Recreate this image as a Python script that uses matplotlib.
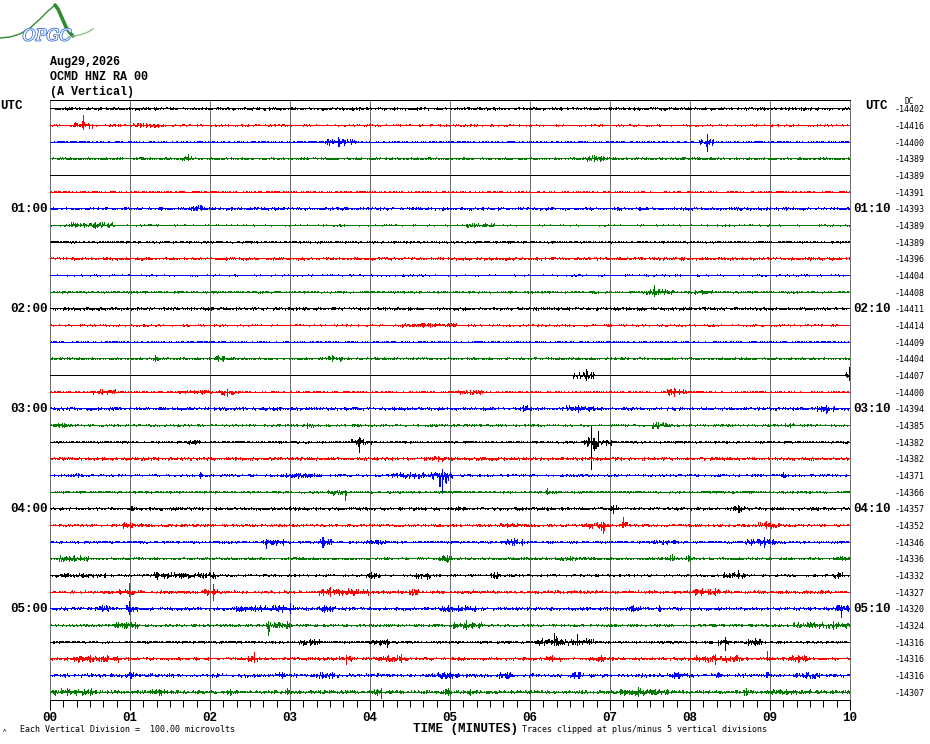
import numpy as np
import matplotlib
matplotlib.use("Agg")
import matplotlib.pyplot as plt
from matplotlib.collections import LineCollection
from matplotlib.ticker import MultipleLocator
import matplotlib.patheffects as pe

# ---------------- data ----------------
DATE = "Aug29,2026"
STATION = "OCMD HNZ RA 00"
COMPONENT = "(A Vertical)"
N_ROWS = 36
ROW_MINUTES = 10
UV_PER_DIV = 100.0
CLIP_DIV = 5

LEFT_LABELS = {0: "UTC", 6: "01:00", 12: "02:00", 18: "03:00", 24: "04:00", 30: "05:00"}
RIGHT_LABELS = {0: "UTC", 6: "01:10", 12: "02:10", 18: "03:10", 24: "04:10", 30: "05:10"}

DC_VALUES = [-14402, -14416, -14400, -14389, -14389, -14391, -14393, -14389, -14389,
             -14396, -14404, -14408, -14411, -14414, -14409, -14404, -14407, -14400,
             -14394, -14385, -14382, -14382, -14371, -14366, -14357, -14352, -14346,
             -14336, -14332, -14327, -14320, -14324, -14316, -14316, -14316, -14307]

X_TICKS = list(range(0, 11))
X_TICK_LABELS = ["00", "01", "02", "03", "04", "05", "06", "07", "08", "09", "10"]

# background noise level of each trace (microvolts, max excursion)
BASE_NOISE_UV = [8, 5, 5, 7, 3, 4, 8, 4, 6, 8, 4, 6, 9, 5, 5, 7, 3, 5,
                 9, 6, 6, 9, 6, 6, 8, 8, 7, 7, 6, 8, 9, 8, 7, 8, 10, 11]

# events: (trace, start_min, end_min, peak_min, up_uV, down_uV)
EVENTS = [
    (1, 0.29, 0.52, 0.41, 72, 30), (1, 1.03, 1.41, 1.20, 12, 12),
    (2, 3.43, 3.82, 3.60, 36, 30), (2, 8.10, 8.30, 8.21, 54, 66),
    (3, 1.64, 1.76, 1.72, 30, 12), (3, 6.68, 6.92, 6.80, 18, 15),
    (6, 1.72, 1.92, 1.88, 24, 12),
    (7, 0.25, 0.78, 0.55, 18, 15), (7, 5.18, 5.55, 5.30, 12, 12),
    (11, 7.44, 7.80, 7.55, 48, 30), (11, 8.05, 8.28, 8.15, 12, 12),
    (13, 4.39, 5.08, 4.75, 12, 12),
    (15, 1.28, 1.35, 1.31, 24, 18), (15, 2.05, 2.17, 2.10, 18, 15), (15, 3.46, 3.64, 3.52, 18, 15),
    (16, 6.52, 6.80, 6.69, 42, 36), (16, 9.93, 10.0, 9.98, 54, 36),
    (17, 0.52, 0.81, 0.65, 15, 15), (17, 1.60, 2.02, 1.90, 12, 12), (17, 2.10, 2.35, 2.20, 18, 30),
    (17, 5.08, 5.41, 5.25, 12, 15), (17, 7.70, 7.95, 7.80, 30, 36),
    (18, 5.87, 5.96, 5.91, 24, 18), (18, 6.44, 6.80, 6.60, 24, 24), (18, 9.58, 9.80, 9.70, 18, 36),
    (19, 0.03, 0.28, 0.15, 12, 12), (19, 3.14, 3.29, 3.20, 15, 15), (19, 7.50, 7.78, 7.60, 18, 18),
    (19, 9.18, 9.32, 9.25, 12, 12),
    (20, 1.69, 1.88, 1.80, 12, 12), (20, 3.75, 4.02, 3.86, 30, 72), (20, 6.66, 7.02, 6.76, 96, 180),
    (20, 6.80, 6.90, 6.84, 96, 40),
    (21, 4.76, 4.95, 4.85, 15, 15),
    (22, 0.22, 0.46, 0.35, 12, 12), (22, 1.84, 1.90, 1.87, 24, 18), (22, 2.90, 3.37, 3.10, 15, 15),
    (22, 4.26, 5.02, 4.89, 36, 108), (22, 9.12, 9.20, 9.16, 30, 12),
    (23, 3.44, 3.70, 3.68, 12, 54), (23, 6.19, 6.24, 6.21, 24, 12),
    (24, 1.00, 1.05, 1.02, 12, 12), (24, 2.97, 3.06, 3.00, 12, 12), (24, 5.00, 5.20, 5.10, 12, 12),
    (24, 6.97, 7.10, 7.03, 18, 30), (24, 8.53, 8.67, 8.60, 18, 36),
    (25, 0.90, 1.15, 1.00, 18, 18), (25, 5.60, 5.85, 5.70, 12, 12), (25, 6.64, 7.00, 6.90, 18, 54),
    (25, 7.12, 7.22, 7.16, 66, 12), (25, 8.84, 9.12, 8.94, 30, 24),
    (26, 2.64, 2.94, 2.69, 15, 42), (26, 2.88, 2.94, 2.91, 12, 30), (26, 3.34, 3.52, 3.40, 42, 48),
    (26, 3.90, 4.30, 4.10, 12, 12), (26, 5.68, 5.92, 5.80, 24, 24), (26, 7.52, 7.85, 7.65, 12, 12),
    (26, 8.68, 9.05, 8.92, 30, 30),
    (27, 0.10, 0.47, 0.30, 18, 18), (27, 4.84, 5.02, 4.95, 24, 24), (27, 6.32, 6.70, 6.50, 12, 12),
    (27, 7.74, 7.80, 7.77, 30, 12), (27, 7.93, 8.00, 7.97, 18, 18), (27, 9.80, 10.0, 9.90, 12, 12),
    (28, 0.03, 0.69, 0.40, 12, 12), (28, 1.28, 2.06, 1.33, 18, 24), (28, 1.95, 2.06, 2.03, 18, 18),
    (28, 3.94, 4.13, 4.00, 18, 18), (28, 4.54, 4.76, 4.70, 12, 30), (28, 5.50, 5.63, 5.55, 18, 18),
    (28, 8.40, 8.67, 8.60, 36, 18), (28, 9.78, 9.90, 9.85, 18, 18),
    (29, 0.85, 1.04, 0.98, 54, 30), (29, 1.91, 2.10, 2.03, 48, 54), (29, 3.35, 3.98, 3.50, 30, 30),
    (29, 4.48, 4.60, 4.52, 18, 18), (29, 8.03, 8.36, 8.31, 24, 24),
    (30, 0.56, 0.75, 0.65, 18, 18), (30, 0.94, 1.09, 0.98, 48, 36), (30, 2.31, 3.04, 3.00, 36, 30),
    (30, 3.35, 3.56, 3.42, 18, 24), (30, 4.85, 5.35, 5.10, 18, 18), (30, 7.19, 7.38, 7.28, 18, 18),
    (30, 7.59, 7.63, 7.61, 24, 18), (30, 9.80, 9.97, 9.88, 24, 54),
    (31, 0.78, 1.10, 0.95, 24, 24), (31, 2.69, 2.99, 2.72, 24, 60), (31, 2.94, 2.99, 2.96, 42, 12),
    (31, 5.01, 5.39, 5.19, 36, 24), (31, 9.28, 10.0, 9.78, 24, 24),
    (32, 3.10, 3.37, 3.25, 18, 24), (32, 3.98, 4.23, 4.21, 18, 36), (32, 6.06, 6.79, 6.29, 54, 24),
    (32, 6.50, 6.65, 6.58, 48, 18), (32, 8.34, 8.48, 8.43, 30, 54), (32, 8.69, 8.90, 8.80, 24, 24),
    (33, 0.28, 0.88, 0.50, 24, 24), (33, 2.46, 2.59, 2.55, 60, 36), (33, 3.60, 3.76, 3.69, 18, 42),
    (33, 4.06, 4.39, 4.38, 30, 24), (33, 6.16, 6.38, 6.27, 18, 18), (33, 6.81, 6.96, 6.88, 18, 18),
    (33, 8.06, 8.65, 8.30, 30, 36), (33, 8.94, 8.98, 8.96, 78, 12), (33, 9.25, 9.46, 9.35, 24, 24),
    (34, 0.98, 1.04, 1.00, 24, 24), (34, 2.85, 2.92, 2.90, 24, 24), (34, 3.35, 3.55, 3.40, 24, 24),
    (34, 4.83, 5.10, 5.00, 24, 24), (34, 5.60, 5.80, 5.70, 18, 18), (34, 6.51, 6.66, 6.60, 24, 30),
    (34, 7.72, 7.90, 7.80, 18, 18), (34, 8.33, 8.38, 8.35, 30, 12), (34, 8.94, 8.98, 8.96, 24, 12),
    (34, 9.30, 9.60, 9.45, 18, 18),
    (35, 0.03, 0.53, 0.20, 24, 24), (35, 1.23, 1.44, 1.35, 18, 24), (35, 2.20, 2.27, 2.24, 18, 18),
    (35, 2.93, 3.00, 2.96, 30, 12), (35, 4.04, 4.15, 4.13, 24, 42), (35, 4.93, 5.00, 4.97, 24, 24),
    (35, 5.22, 5.28, 5.25, 18, 18), (35, 7.10, 7.73, 7.35, 30, 30), (35, 8.66, 8.72, 8.69, 30, 24),
    (35, 9.00, 9.50, 9.20, 15, 15),
]

TRACE_COLORS = ["#000000", "#ff0000", "#0000ff", "#007a00"]

# ---------------- figure ----------------
W, H = 930, 744
fig = plt.figure(figsize=(W / 100, H / 100), dpi=100)
fig.patch.set_facecolor("white")

PX = 0.72  # one pixel in points


def fx(x):
    return x / W


def fy(y):
    return 1 - y / H


ax = fig.add_axes([fx(50), fy(700), 800 / W, 600 / H])
ax.set_xlim(0, ROW_MINUTES)
ax.set_ylim(N_ROWS, 0)
ax.patch.set_alpha(0)
for s in ["left", "right"]:
    ax.spines[s].set_visible(False)
ax.spines["top"].set_linewidth(PX)
ax.spines["bottom"].set_linewidth(PX)
ax.set_yticks([])
ax.set_xticks(X_TICKS)
ax.set_xticklabels(X_TICK_LABELS, family="Liberation Mono", weight="bold", fontsize=9)
ax.xaxis.set_minor_locator(MultipleLocator(1 / 6))
ax.tick_params(axis="x", which="major", length=7.2, width=PX, pad=1.5, direction="out")
ax.tick_params(axis="x", which="minor", length=5, width=PX, direction="out")

# minute grid lines
ax.vlines(X_TICKS, 0, N_ROWS, colors="#707070", linewidth=PX, clip_on=False,
          antialiased=False, zorder=1)

# trace drawing
n_col = 800
t = (np.arange(n_col) + 0.5) * ROW_MINUTES / n_col


def grain(n, seed):
    # fixed texture pattern for the wiggle of the pen
    k = np.arange(n, dtype=float)
    v = np.sin(k * 12.9898 + seed * 78.233) * 43758.5453
    return v - np.floor(v)


for i in range(N_ROWS):
    color = TRACE_COLORS[i % 4]
    yc = i + 0.5
    base = BASE_NOISE_UV[i]
    up = base * grain(n_col, 2 * i + 1) ** 2.5
    dn = base * grain(n_col, 2 * i + 2) ** 2.5
    env_u = np.zeros(n_col)
    env_d = np.zeros(n_col)
    peaks = []
    for (tr, t0, t1, tp, au, ad) in EVENTS:
        if tr != i:
            continue
        tau = max((t1 - t0) / 10.0, 0.006)
        shape = np.exp(-np.abs(t - tp) / tau)
        inside = (t >= t0) & (t <= t1)
        eu = np.where(inside, np.maximum(au * shape, min(au, 20)), 0.0)
        ed = np.where(inside, np.maximum(ad * shape, min(ad, 20)), 0.0)
        env_u = np.maximum(env_u, eu)
        env_d = np.maximum(env_d, ed)
        peaks.append(tp)
    gu = grain(n_col, 100 + i) ** 2
    gd = grain(n_col, 200 + i) ** 2
    for tp in peaks:
        j = int(np.argmin(np.abs(t - tp)))
        gu[j] = 1.0
        gd[j] = 1.0
    up = np.maximum(up, env_u * gu)
    dn = np.maximum(dn, env_d * gd)
    up = np.clip(up / UV_PER_DIV, 0, CLIP_DIV)
    dn = np.clip(dn / UV_PER_DIV, 0, CLIP_DIV)
    segs = np.stack([np.column_stack([t, yc - up]), np.column_stack([t, yc + dn])], axis=1)
    ax.add_collection(LineCollection(segs, colors=color, linewidths=PX,
                                     antialiaseds=False, zorder=3))
    ax.hlines(yc, 0, ROW_MINUTES, colors=color, linewidth=PX, antialiased=False, zorder=3)

# ---------------- texts ----------------
row_px = lambda i: 100 + 600 / N_ROWS * (i + 0.5)
mono = "Liberation Mono"

fig.text(fx(50), fy(62), DATE, family=mono, weight="bold", fontsize=8.5, va="center", ha="left")
fig.text(fx(50), fy(77), STATION, family=mono, weight="bold", fontsize=8.5, va="center", ha="left")
fig.text(fx(50), fy(92), COMPONENT, family=mono, weight="bold", fontsize=8.5, va="center", ha="left")

for i, lab in LEFT_LABELS.items():
    if lab == "UTC":
        fig.text(fx(0), fy(row_px(i) - 2), lab, family=mono, weight="bold", fontsize=9,
                 va="center", ha="left")
    else:
        fig.text(fx(48), fy(row_px(i) + 1), lab, family=mono, weight="bold", fontsize=9,
                 va="center", ha="right")
for i, lab in RIGHT_LABELS.items():
    if lab == "UTC":
        fig.text(fx(865), fy(row_px(i) - 2), lab, family=mono, weight="bold", fontsize=9,
                 va="center", ha="left")
    else:
        fig.text(fx(853), fy(row_px(i) + 1), lab, family=mono, weight="bold", fontsize=9,
                 va="center", ha="left")

fig.text(fx(904), fy(102), "DC", family="DejaVu Sans Mono", fontsize=5.5, va="center", ha="left")
for i, v in enumerate(DC_VALUES):
    fig.text(fx(925), fy(row_px(i) + 1.5), str(v), family="DejaVu Sans Mono", fontsize=6,
             va="center", ha="right")

fig.text(fx(413), fy(729), "TIME (MINUTES)", family=mono, weight="bold", fontsize=9,
         va="center", ha="left")
fig.text(fx(20), fy(730), "Each Vertical Division =  100.00 microvolts",
         family="DejaVu Sans Mono", fontsize=6, va="center", ha="left")
fig.text(fx(522), fy(730), "Traces clipped at plus/minus 5 vertical divisions",
         family="DejaVu Sans Mono", fontsize=6, va="center", ha="left")
fig.text(fx(3), fy(731), "\u028c", family="DejaVu Sans", fontsize=4, va="center", ha="left")

# ---------------- logo ----------------
lg = fig.add_axes([0, 0, 1, 1], zorder=-1)
lg.set_xlim(0, W)
lg.set_ylim(H, 0)
lg.axis("off")
lg.plot([0, 10, 20, 30, 40, 48, 55], [38, 37, 34, 28, 19, 11, 5], color="#2e8b2e", lw=1.0)
lg.plot([55, 58, 62, 66, 70, 73], [5, 9, 18, 27, 33, 36], color="#2e8b2e", lw=2.6,
        solid_capstyle="round")
lg.plot([73, 80, 88, 93], [36, 35, 32, 29], color="#8fc08f", lw=1.0)
lg.text(47, 36, "OPGC", color="white", fontsize=11.5, style="italic", family="DejaVu Serif",
        ha="center", va="center",
        path_effects=[pe.Stroke(linewidth=1.2, foreground="#3a70d8"), pe.Normal()])

fig.savefig("out.png", dpi=100)
